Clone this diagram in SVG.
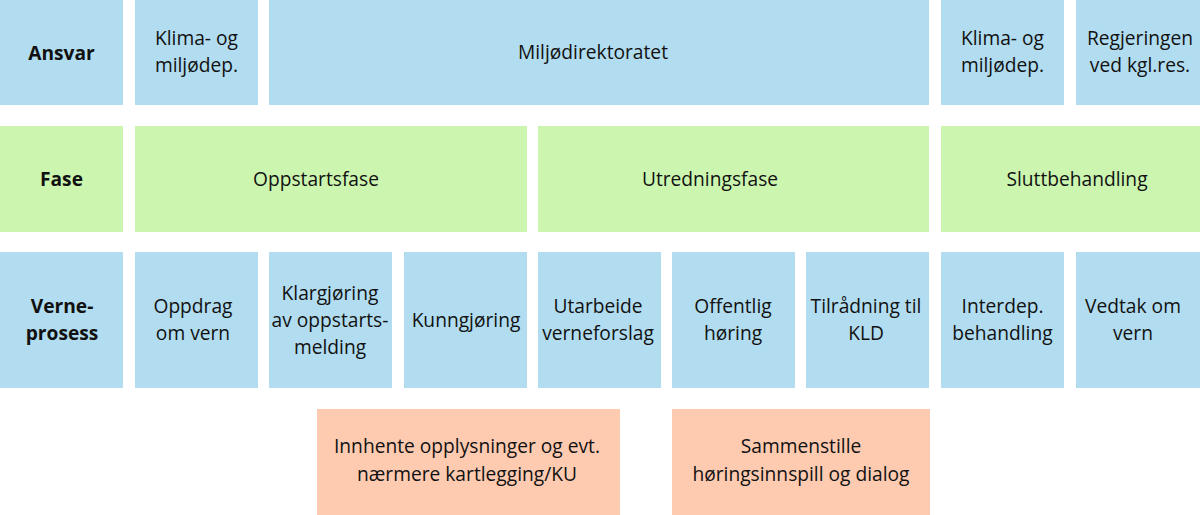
<svg xmlns="http://www.w3.org/2000/svg" width="1200" height="515" viewBox="0 0 1200 515">
<style>
.b{fill:#b2ddf0}
.g{fill:#ccf6b0}
.o{fill:#fecbb1}
text{font-family:"Open Sans","Noto Sans",sans-serif;font-size:19.2px;fill:#111;text-anchor:middle}
.h{font-weight:bold}
</style>
<rect width="1200" height="515" fill="#fff"/>
<g id="ansvar">
<rect class="b" x="0" y="0" width="123" height="105"/>
<text class="h" x="61.5" y="60">Ansvar</text>
</g>
<g id="ansvar-kld1">
<rect class="b" x="135" y="0" width="123" height="105"/>
<text x="196.5" y="45">Klima- og</text>
<text x="196.5" y="72">miljødep.</text>
</g>
<g id="ansvar-mdir">
<rect class="b" x="269" y="0" width="660" height="105"/>
<text x="593" y="59">Miljødirektoratet</text>
</g>
<g id="ansvar-kld2">
<rect class="b" x="941" y="0" width="123" height="105"/>
<text x="1002.5" y="45">Klima- og</text>
<text x="1002.5" y="72">miljødep.</text>
</g>
<g id="ansvar-reg">
<rect class="b" x="1076" y="0" width="124" height="105"/>
<text x="1140" y="45">Regjeringen</text>
<text x="1140" y="72">ved kgl.res.</text>
</g>
<g id="fase">
<rect class="g" x="0" y="126" width="123" height="106"/>
<text class="h" x="61.5" y="186">Fase</text>
</g>
<g id="fase-oppstart">
<rect class="g" x="135" y="126" width="392" height="106"/>
<text x="316" y="186">Oppstartsfase</text>
</g>
<g id="fase-utredning">
<rect class="g" x="538" y="126" width="391" height="106"/>
<text x="710" y="186">Utredningsfase</text>
</g>
<g id="fase-slutt">
<rect class="g" x="941" y="126" width="259" height="106"/>
<text x="1077" y="186">Sluttbehandling</text>
</g>
<g id="verneprosess">
<rect class="b" x="0" y="252" width="123" height="136"/>
<text class="h" x="62" y="313">Verne-</text>
<text class="h" x="62" y="340">prosess</text>
</g>
<g id="p-oppdrag">
<rect class="b" x="135" y="252" width="123" height="136"/>
<text x="193" y="313">Oppdrag</text>
<text x="193" y="340">om vern</text>
</g>
<g id="p-klargjoring">
<rect class="b" x="269" y="252" width="123" height="136"/>
<text x="330" y="300">Klargjøring</text>
<text x="330" y="327">av oppstarts-</text>
<text x="330" y="354">melding</text>
</g>
<g id="p-kunngjoring">
<rect class="b" x="404" y="252" width="123" height="136"/>
<text x="466" y="327">Kunngjøring</text>
</g>
<g id="p-utarbeide">
<rect class="b" x="538" y="252" width="123" height="136"/>
<text x="598" y="313">Utarbeide</text>
<text x="598" y="340">verneforslag</text>
</g>
<g id="p-horing">
<rect class="b" x="672" y="252" width="123" height="136"/>
<text x="733" y="313">Offentlig</text>
<text x="733" y="340">høring</text>
</g>
<g id="p-tilradning">
<rect class="b" x="806" y="252" width="123" height="136"/>
<text x="866" y="313">Tilrådning til</text>
<text x="866" y="340">KLD</text>
</g>
<g id="p-interdep">
<rect class="b" x="941" y="252" width="123" height="136"/>
<text x="1002.5" y="313">Interdep.</text>
<text x="1002.5" y="340">behandling</text>
</g>
<g id="p-vedtak">
<rect class="b" x="1076" y="252" width="124" height="136"/>
<text x="1133" y="313">Vedtak om</text>
<text x="1133" y="340">vern</text>
</g>
<g id="innhente">
<rect class="o" x="317" y="409" width="303" height="106"/>
<text x="467" y="453">Innhente opplysninger og evt.</text>
<text x="467" y="481">nærmere kartlegging/KU</text>
</g>
<g id="sammenstille">
<rect class="o" x="672" y="409" width="258" height="106"/>
<text x="801" y="453">Sammenstille</text>
<text x="801" y="481">høringsinnspill og dialog</text>
</g>
<g id="connectors"></g>
</svg>
